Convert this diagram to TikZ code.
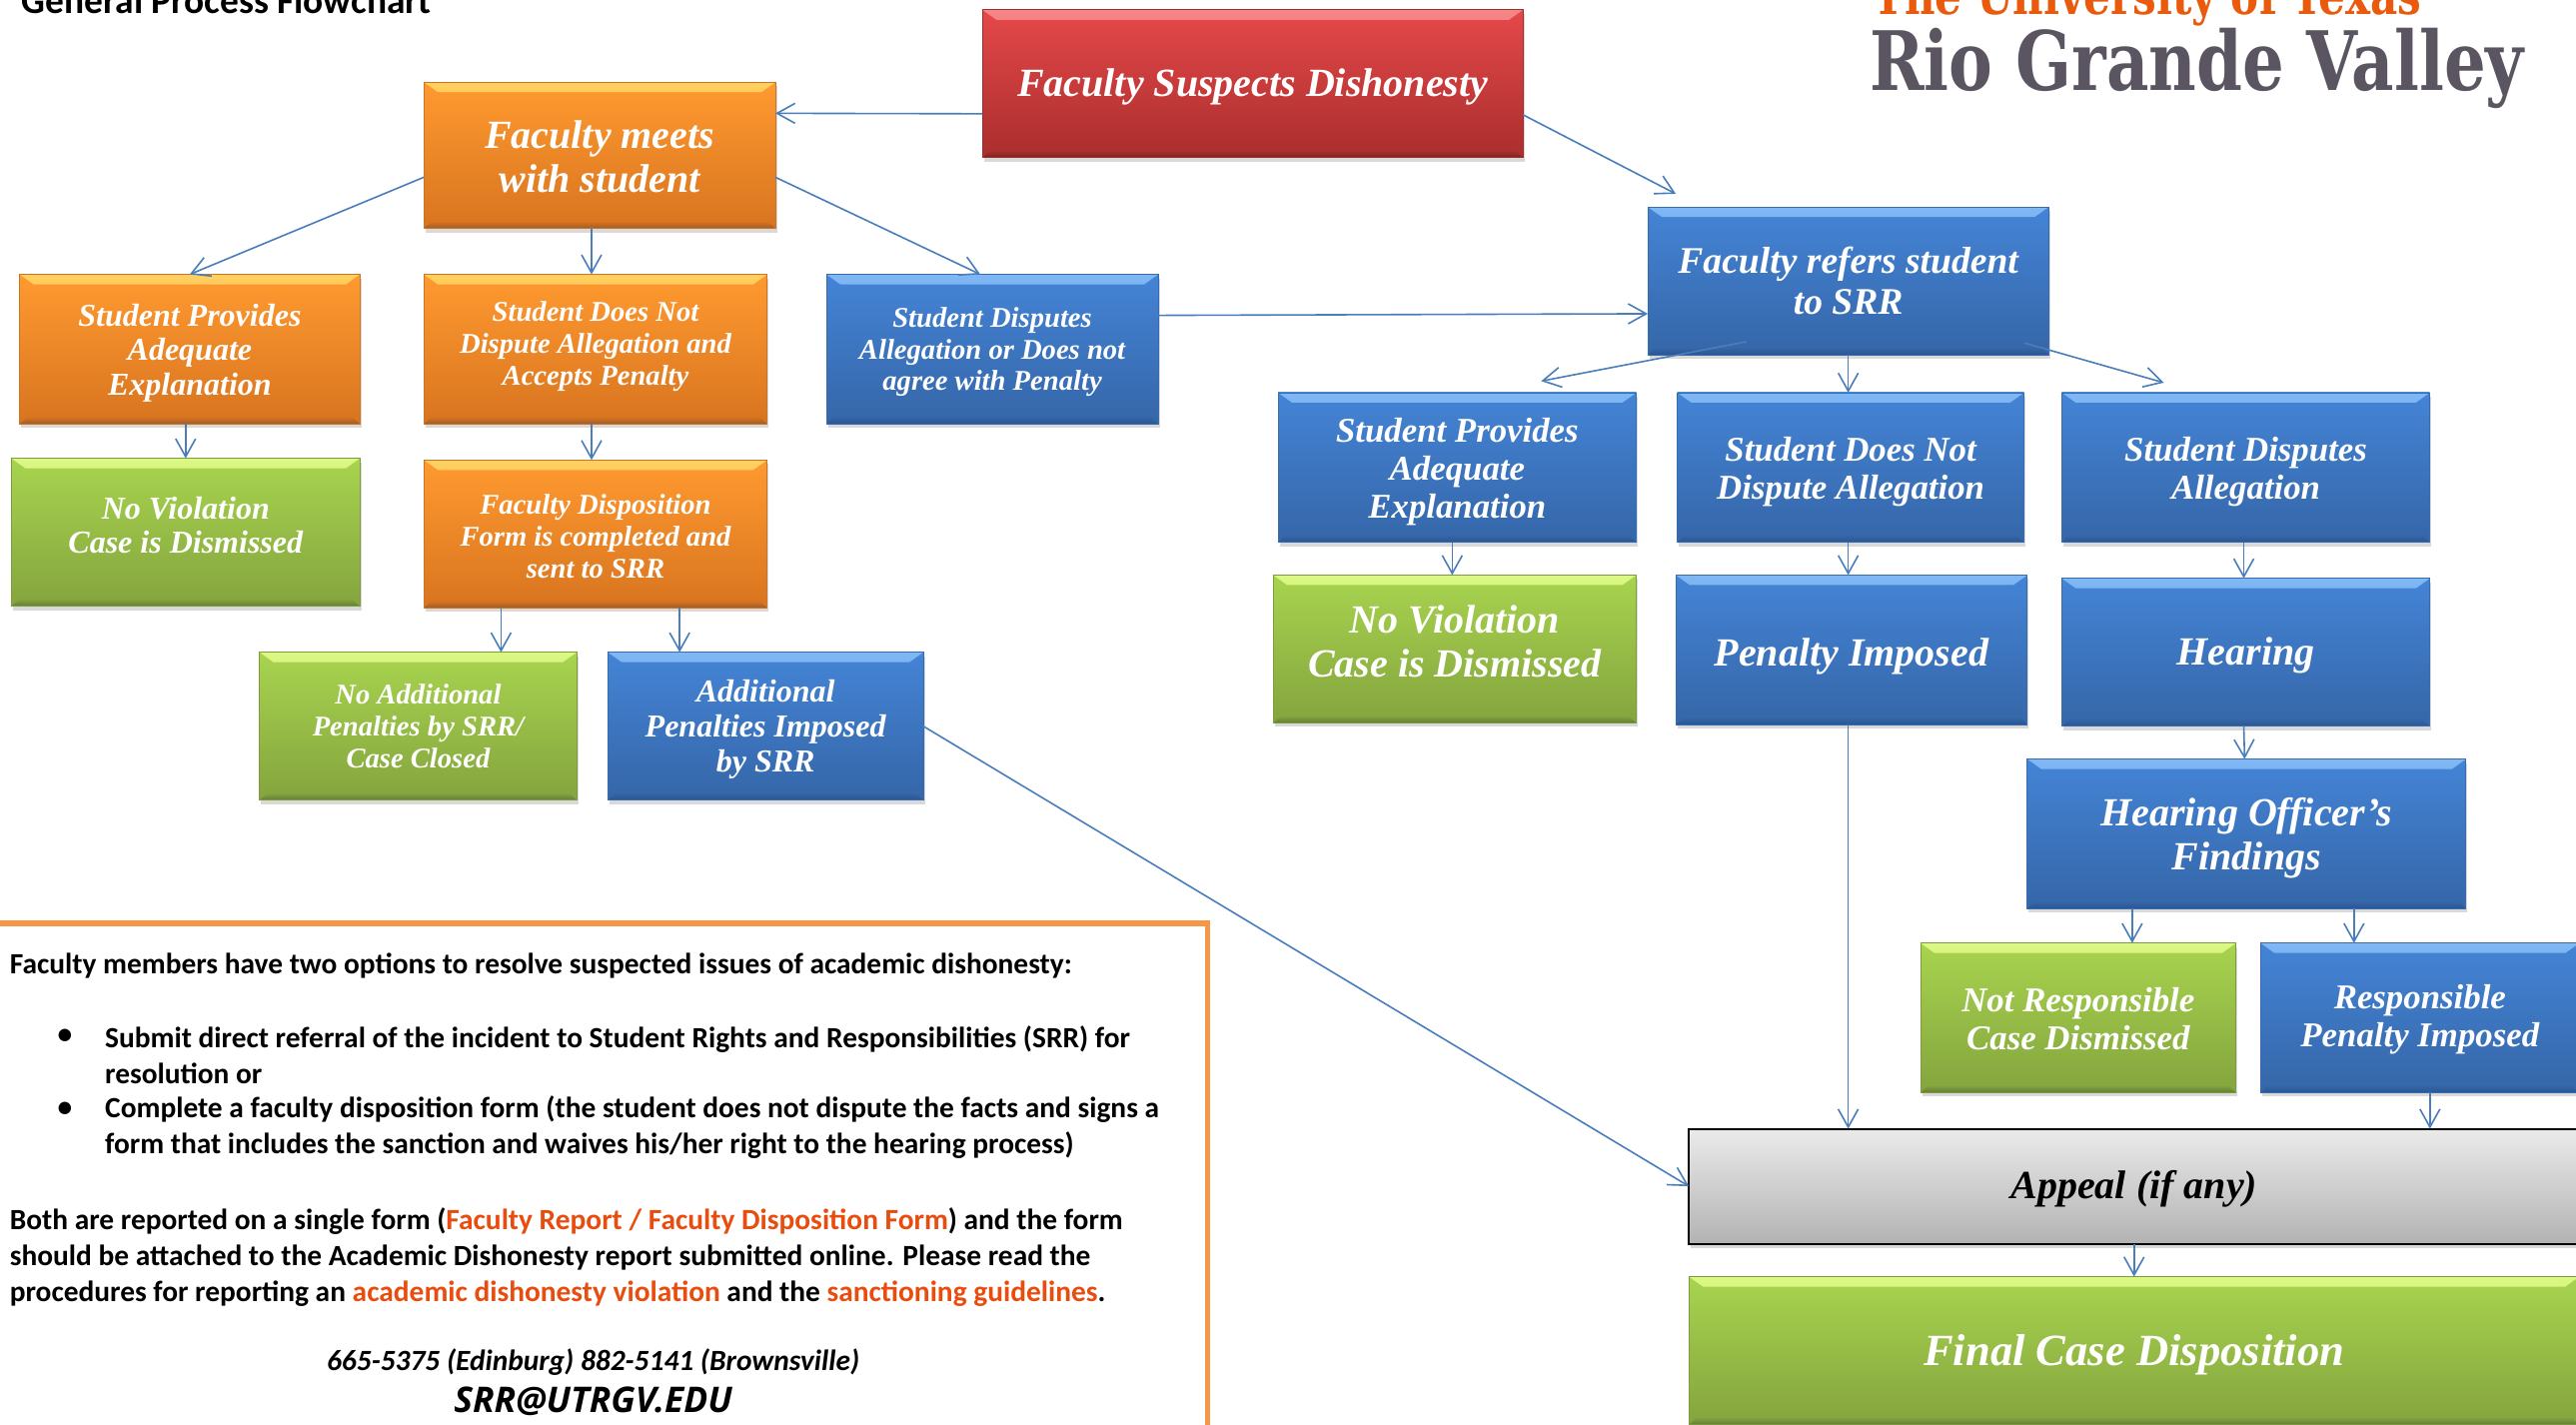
\documentclass[tikz,border=0pt]{standalone}
\usepackage{fontspec}
\setmainfont{Carlito}
\newfontfamily\boxface{Liberation Serif}
\newfontfamily\logoface[FakeStretch=0.8]{DejaVu Serif}
\newfontfamily\mailface{Open Sans}
\usetikzlibrary{arrows.meta, shadows}
\definecolor{orangetop}{HTML}{FF9A30}
\definecolor{orangelow}{HTML}{D8741F}
\definecolor{orangelit}{HTML}{FFD060}
\definecolor{orangedim}{HTML}{A05C28}
\definecolor{orangeedge}{HTML}{C8762A}
\definecolor{bluetop}{HTML}{4484D6}
\definecolor{bluelow}{HTML}{3566A8}
\definecolor{bluelit}{HTML}{80B8F4}
\definecolor{bluedim}{HTML}{2A5590}
\definecolor{blueedge}{HTML}{386CAE}
\definecolor{greentop}{HTML}{A8D44F}
\definecolor{greenlow}{HTML}{84A43E}
\definecolor{greenlit}{HTML}{DCF884}
\definecolor{greendim}{HTML}{627C38}
\definecolor{greenedge}{HTML}{7E9C3E}
\definecolor{redtop}{HTML}{E5484A}
\definecolor{redlow}{HTML}{AA2E2D}
\definecolor{redlit}{HTML}{F68686}
\definecolor{reddim}{HTML}{7A2220}
\definecolor{rededge}{HTML}{9E2E2C}
\definecolor{flowblue}{HTML}{4A7EBB}
\definecolor{notelink}{HTML}{E84C0E}
\definecolor{noteline}{HTML}{F79646}
\definecolor{logoorange}{HTML}{EA5A0C}
\definecolor{logogray}{HTML}{5A5560}
\newcommand{\topgap}[1]{\rule{0pt}{#1pt}} % pushes the lines of a box down a little
\tikzset{
>={Straight Barb[length=9pt,width=10pt]}, % open tips as in the flowchart
x=.822pt, y=-.822pt, % so that positions
wh/.style 2 args={minimum width=#1*.822pt, minimum height=#2*.822pt},
bevelbox/.style={rectangle, inner sep=0pt, outer sep=0pt, align=center, text=white,
  draw=#1edge, line width=.4pt, top color=#1top, bottom color=#1low,
  drop shadow={shadow xshift=.8pt, shadow yshift=-2pt, opacity=.3},
  path picture={
    \shade[top color=#1lit, bottom color=#1top] (path picture bounding box.north west) -- (path picture bounding box.north east)
      -- ([shift={(-7pt,-5pt)}]path picture bounding box.north east)
      -- ([shift={(7pt,-5pt)}]path picture bounding box.north west) -- cycle;
    \shade[top color=#1low, bottom color=#1dim] (path picture bounding box.south west) -- (path picture bounding box.south east)
      -- ([shift={(-4pt,3.5pt)}]path picture bounding box.south east)
      -- ([shift={(4pt,3.5pt)}]path picture bounding box.south west) -- cycle;
  }},
orangebox/.style={bevelbox=orange},
bluebox/.style={bevelbox=blue},
greenbox/.style={bevelbox=green},
redbox/.style={bevelbox=red},
greybox/.style={rectangle, inner sep=0pt, outer sep=0pt, align=center, text=black,
  draw=black, line width=1pt, top color=black!8, bottom color=black!30,
  drop shadow={shadow xshift=.8pt, shadow yshift=-2pt, opacity=.3}},
hugetext/.style={font=\boxface\bfseries\itshape\fontsize{22.3}{25}\selectfont},
bigtext/.style={font=\boxface\bfseries\itshape\fontsize{20}{22}\selectfont},
hightext/.style={font=\boxface\bfseries\itshape\fontsize{18.8}{20.5}\selectfont},
midtext/.style={font=\boxface\bfseries\itshape\fontsize{17.4}{19}\selectfont},
lesstext/.style={font=\boxface\bfseries\itshape\fontsize{16}{17.3}\selectfont},
smalltext/.style={font=\boxface\bfseries\itshape\fontsize{14.3}{15.8}\selectfont},
flow/.style={->, draw=flowblue, line width=.8pt},
notetext/.style={inner sep=0pt, outer sep=0pt, anchor=west, align=left,
  font=\bfseries\fontsize{14.7}{18}\selectfont},
}

\begin{document}
\begin{tikzpicture}
\useasboundingbox (0,0) rectangle (1568,867.3);
% heading and logo
\node[inner sep=0pt, anchor=base west, font=\bfseries\fontsize{18.7}{20}\selectfont] (heading) at (13,8) {General Process Flowchart};
\node[inner sep=0pt, anchor=base west, text=logoorange, font=\logoface\bfseries\fontsize{26.3}{30}\selectfont] (logotop) at (1140,9) {The University of Texas};
\node[inner sep=0pt, anchor=base west, text=logogray, font=\logoface\bfseries\fontsize{41}{45}\selectfont] (logomain) at (1138,55) {Rio Grande Valley};
% faculty path
\node[redbox, bigtext, wh={329}{90}] (suspects) at (762.5,51) {\topgap{17}Faculty Suspects Dishonesty};
\node[orangebox, bigtext, wh={214}{89}] (meets) at (365,94.5) {\topgap{15.2}Faculty meets\\with student};
\node[orangebox, lesstext, wh={207}{91}] (adequateA) at (115.5,212.5) {\topgap{15}Student Provides\\Adequate\\Explanation};
\node[orangebox, smalltext, wh={209}{91}] (acceptsA) at (362.5,212.5) {Student Does Not\\Dispute Allegation and\\Accepts Penalty\\[-10pt]};
\node[bluebox, smalltext, wh={202}{91}] (disputesA) at (604,212.5) {\topgap{13}Student Disputes\\Allegation or Does not\\agree with Penalty};
\node[greenbox, lesstext, wh={212}{90}] (noviolA) at (113,324) {No Violation\\Case is Dismissed\\[-10pt]};
\node[orangebox, smalltext, wh={209}{90}] (dispform) at (362.5,325) {\topgap{12.2}Faculty Disposition\\Form is completed and\\sent to SRR};
\node[greenbox, smalltext, wh={193}{90}] (noextra) at (254.5,442) {No Additional\\Penalties by SRR/\\Case Closed};
\node[bluebox, lesstext, wh={192}{90}] (extra) at (466,442) {\topgap{14.2}Additional\\Penalties Imposed\\by SRR};
% referral path
\node[bluebox, hightext, wh={244}{90}] (refers) at (1125,171) {Faculty refers student\\to SRR};
\node[bluebox, midtext, wh={218}{91}] (adequateB) at (887,284.5) {\topgap{16.8}Student Provides\\Adequate\\Explanation};
\node[bluebox, midtext, wh={211}{91}] (nodisputeB) at (1126.5,284.5) {\topgap{16.8}Student Does Not\\Dispute Allegation};
\node[bluebox, midtext, wh={224}{91}] (disputesB) at (1367,284.5) {\topgap{16.8}Student Disputes\\Allegation};
\node[greenbox, bigtext, wh={221}{90}] (noviolB) at (885.5,395) {No Violation\\Case is Dismissed\\[-13.8pt]};
\node[bluebox, bigtext, wh={214}{91}] (penalty) at (1127,395.5) {\topgap{20.2}Penalty Imposed};
\node[bluebox, bigtext, wh={224}{90}] (hearing) at (1367,397) {\topgap{17}Hearing};
\node[bluebox, bigtext, wh={267}{91}] (findings) at (1367.5,507.5) {\topgap{18.6}Hearing Officer’s\\Findings};
\node[greenbox, midtext, wh={192}{91}] (notresp) at (1265,619.5) {\topgap{13.4}Not Responsible\\Case Dismissed};
\node[bluebox, midtext, wh={194}{91}] (resp) at (1473,619.5) {\topgap{13.4}Responsible\\Penalty Imposed};
\node[greybox, bigtext, wh={542}{70}] (appeal) at (1299,722) {\topgap{17}Appeal (if any)};
\node[greenbox, hugetext, wh={542}{90}] (final) at (1299,822) {\topgap{20.2}Final Case Disposition};
% note in the corner
\node[draw=noteline, line width=2.6pt, inner sep=0pt, wh={740}{318}] (noteframe) at (365,721) {};
\node[notetext] (noteintro) at (6,588) {Faculty members have two options to resolve suspected issues of academic dishonesty:};
\node[notetext] (dotone) at (35,631) {\textbullet};
\node[notetext] (optionone) at (64,642) {Submit direct referral of the incident to Student Rights and Responsibilities (SRR) for\\resolution or};
\node[notetext] (dottwo) at (35,675) {\textbullet};
\node[notetext] (optiontwo) at (64,686) {Complete a faculty disposition form (the student does not dispute the facts and signs a\\form that includes the sanction and waives his/her right to the hearing process)};
\node[notetext] (notereport) at (6,765) {Both are reported on a single form ({\color{notelink}Faculty Report / Faculty Disposition Form}) and the form\\should be attached to the Academic Dishonesty report submitted online. Please read the\\procedures for reporting an {\color{notelink}academic dishonesty violation} and the {\color{notelink}sanctioning guidelines}.};
\node[inner sep=0pt, font=\bfseries\itshape\fontsize{14.7}{17}\selectfont] (phones) at (361,829) {665-5375 (Edinburg) 882-5141 (Brownsville)};
\node[inner sep=0pt, font=\mailface\bfseries\itshape\fontsize{17.7}{20}\selectfont] (mail) at (361,853) {SRR@UTRGV.EDU};
% connectors
\draw
    ([yshift=-15pt]suspects.west) edge[flow] ([yshift=21pt]meets.east)
    ([yshift=-15.5pt]suspects.east) edge[flow] ([shift={(14pt,6.6pt)}]refers.north west)
    ([yshift=-11pt]meets.west) edge[flow] (adequateA.north)
    ([xshift=-2pt]acceptsA.north |- meets.south) edge[flow] ([xshift=-2pt]acceptsA.north)
    ([yshift=-11pt]meets.east) edge[flow] ([xshift=-6pt]disputesA.north)
    (noviolA.north |- adequateA.south) edge[flow] (noviolA.north)
    ([xshift=-2pt]acceptsA.south) edge[flow] ([xshift=-2pt]dispform.north)
    ([xshift=41.5pt]noextra.north |- dispform.south) edge[flow] ([xshift=41.5pt]noextra.north)
    ([xshift=-43pt]extra.north |- dispform.south) edge[flow] ([xshift=-43pt]extra.north)
    (extra.east) edge[flow] (appeal.west)
    ([yshift=16.9pt]disputesA.east) edge[flow] ([yshift=-16.4pt]refers.west)
    ([shift={(-51pt,6.6pt)}]refers.south) edge[flow] ([shift={(42pt,5.8pt)}]adequateB.north)
    (refers.south) edge[flow] (refers.south |- nodisputeB.north)
    ([shift={(88pt,6pt)}]refers.south) edge[flow] ([shift={(-41pt,5pt)}]disputesB.north)
    ([xshift=-2.5pt]adequateB.south) edge[flow] ([xshift=-2.5pt]adequateB.south |- noviolB.north)
    (refers.south |- nodisputeB.south) edge[flow] (refers.south |- penalty.north)
    ([xshift=-1pt]disputesB.south) edge[flow] ([xshift=-1pt]hearing.north)
    (refers.south |- penalty.south) edge[flow] (refers.south |- appeal.north)
    ([xshift=-1pt]hearing.south) edge[flow] ([xshift=-1pt]findings.north)
    ([xshift=27pt]notresp.north |- findings.south) edge[flow] ([xshift=27pt]notresp.north)
    ([xshift=-33pt]resp.north |- findings.south) edge[flow] ([xshift=-33pt]resp.north)
    ([xshift=5pt]resp.south) edge[flow] ([xshift=5pt]resp.south |- appeal.north)
    (appeal.south) edge[flow] (final.north)
    ;
\end{tikzpicture}
\end{document}
